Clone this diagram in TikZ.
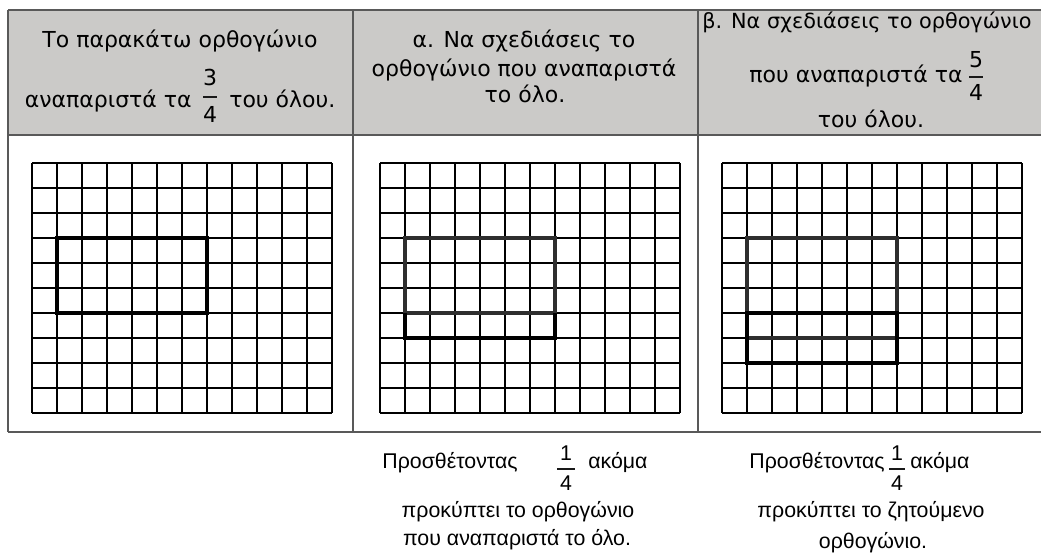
\documentclass[tikz,border=0pt]{standalone}
\usepackage{fontspec}
\setmainfont{DejaVu Sans}
\newfontfamily\notefont{Liberation Sans}
\definecolor{headgray}{RGB}{203,202,200}
\tikzset{
  tablerule/.style={line width=1.6pt, draw=black!65},
  gridline/.style={line width=0.9pt, draw=black},
  quarterbox/.style={line width=2.4pt, draw=black},
  wholebox/.style={line width=2.4pt, draw=black!82},
  fracbar/.style={line width=1.1pt, draw=black!90},
  headtxt/.style={anchor=base, inner sep=0pt, font=\fontsize{16.5}{20}\selectfont},
  notetxt/.style={anchor=base, inner sep=0pt, font=\notefont\fontsize{16}{19}\selectfont}
}

\begin{document}
\begin{tikzpicture}[x=0.75pt,y=-0.75pt]
\useasboundingbox (0,0) rectangle (1041,558);

% table
\fill[headgray] (8,10) rectangle (1041,135);
\draw[tablerule] (8,10) -- (1041,10);
\draw[tablerule] (8,135) -- (1041,135);
\draw[tablerule] (8,432) -- (1041,432);
\foreach \cx in {8,353,698}
  \draw[tablerule] (\cx,10) -- (\cx,432);

% squared paper
\foreach \gx in {32,380,722} {
  \foreach \i in {0,...,12}
    \draw[gridline] ({\gx+25*\i},163) -- ({\gx+25*\i},413);
  \foreach \j in {0,...,10}
    \draw[gridline] (\gx,{163+25*\j}) -- ({\gx+300},{163+25*\j});
}

% rectangles
\draw[quarterbox] (57,238) rectangle (207,313);
\draw[wholebox] (405,238) rectangle (555,313);
\draw[quarterbox] (405,313) -- (405,338) -- (555,338) -- (555,313);
\draw[wholebox] (747,238) rectangle (897,338);
\draw[quarterbox] (747,313) rectangle (897,363);

% header, column 1
\node[headtxt] (h1a) at (180,47) {Το παρακάτω ορθογώνιο};
\node[headtxt, anchor=base east] (h1b) at (192,107) {αναπαριστά τα};
\node[headtxt] (f1n) at (210,85) {3};
\node[headtxt] (f1d) at (210,122) {4};
\node[headtxt, anchor=base west] (h1c) at (229,107) {του όλου.};
\draw[fracbar] (203,97) -- (217,97);

% header, column 2
\node[headtxt] (h2a) at (524,47) {α. Να σχεδιάσεις το};
\node[headtxt] (h2b) at (524,76) {ορθογώνιο που αναπαριστά};
\node[headtxt] (h2c) at (525,102) {το όλο.};

% header, column 3
\node[headtxt, font=\fontsize{15.6}{20}\selectfont] (h3a) at (867,28) {β. Να σχεδιάσεις το ορθογώνιο};
\node[headtxt, anchor=base east] (h3b) at (963,82) {που αναπαριστά τα};
\node[headtxt] (f3n) at (976,67) {5};
\node[headtxt] (f3d) at (976,100) {4};
\draw[fracbar] (969,77) -- (983,77);
\node[headtxt] (h3c) at (871,127) {του όλου.};

% notes under column 2
\node[notetxt, anchor=base east] (n2a) at (518,468) {Προσθέτοντας};
\node[notetxt] (g2n) at (566,460) {1};
\node[notetxt] (g2d) at (566,490) {4};
\draw[fracbar] (557,469) -- (575,469);
\node[notetxt, anchor=base west] (n2b) at (588,468) {ακόμα};
\node[notetxt] (n2c) at (518,517) {προκύπτει το ορθογώνιο};
\node[notetxt] (n2d) at (517,545) {που αναπαριστά το όλο.};

% notes under column 3
\node[notetxt, anchor=base east] (n3a) at (885,468) {Προσθέτοντας};
\node[notetxt] (g3n) at (897,460) {1};
\node[notetxt] (g3d) at (897,490) {4};
\draw[fracbar] (889,469) -- (905,469);
\node[notetxt, anchor=base west] (n3b) at (910,468) {ακόμα};
\node[notetxt] (n3c) at (871,517) {προκύπτει το ζητούμενο};
\node[notetxt] (n3d) at (873,548) {ορθογώνιο.};
\end{tikzpicture}
\end{document}
